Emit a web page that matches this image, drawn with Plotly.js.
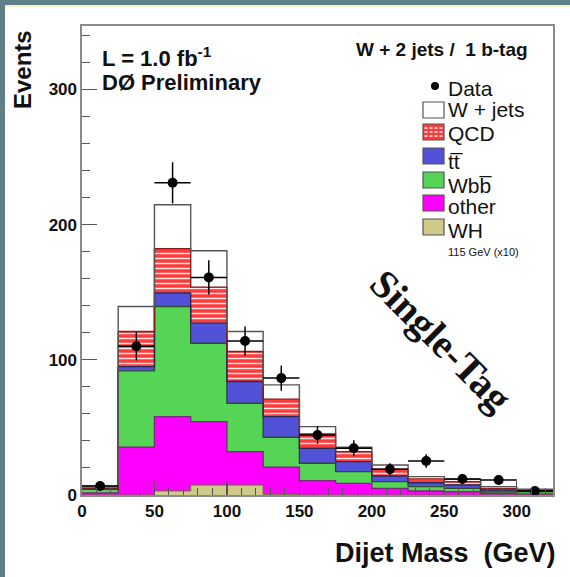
<!DOCTYPE html>
<html>
<head>
<meta charset="utf-8">
<script src="https://cdn.plot.ly/plotly-3.0.1.min.js"></script>
<style>
  html, body { margin:0; padding:0; width:570px; height:577px; overflow:hidden;
    background:#5f8089; }
  #panel { position:absolute; left:5px; top:5px; width:565px; height:572px;
    background:#ffffff; border-top:2px solid #f6f3c4; box-sizing:border-box; }
  #chart { position:absolute; left:0; top:0; width:570px; height:577px; }
</style>
</head>
<body>
<div id="panel"></div>
<div id="chart"></div>
<script>
// ---- data ----
const binLow = [0, 25, 50, 75, 100, 125, 150, 175, 200, 225, 250, 275, 300];
const binWidth = 25;
const other = [1.5, 35.3, 58, 54.3, 32.1, 20.5, 10.6, 8.6, 4.9, 3, 2.5, 1, 0.7];
const wbb   = [2.7, 56.5, 81.5, 58, 35.8, 22.2, 12.9, 8.7, 5, 3.2, 2.4, 1.1, 1.8];
const ttbar = [0.5, 3.2, 9.9, 14.9, 16.1, 15.3, 11.1, 7.4, 4.2, 2.9, 2.5, 1.6, 0.3];
const qcd   = [0.5, 26, 32.8, 26.6, 22.2, 12.9, 10.6, 7.4, 4.9, 2.8, 2.5, 1.2, 0.7];
const wjets = [1.5, 18.5, 32.6, 26.9, 14.8, 10.6, 5.4, 3.2, 3.2, 1.7, 1.7, 1.3, 0.7];
const whx10 = [0, 0, 3, 7.4, 7.4, 0.5, 0, 0, 0, 0, 0, 0, 0];
const dataVals = [6.7, 110, 231, 161, 114, 86.5, 44.4, 34.6, 19, 25.2, 11.9, 11.1, 3];
const dataErr  = [2.6, 10.5, 15.2, 12.7, 10.7, 9.3, 6.7, 5.9, 4.4, 5, 3.4, 3.3, 1.7];
const xTickVals = [0, 50, 100, 150, 200, 250, 300];
const legendLabels = ['Data', 'W + jets', 'QCD', 'tt\u0305', 'Wbb\u0305', 'other', 'WH'];

// ---- derived ----
const centers = binLow.map(v => v + binWidth / 2);
const edges = binLow.concat([binLow[binLow.length - 1] + binWidth]);
const layers = [other, wbb, ttbar, qcd, wjets];
const colors = ['#ff00ff', '#55d455', '#5252d8', '#ff3a3a', '#ffffff'];
const names = ['other', 'Wbb', 'ttbar', 'QCD', 'W + jets'];
const cum = [];
let run = binLow.map(() => 0);
layers.forEach(l => { run = run.map((v, i) => v + l[i]); cum.push(run.slice()); });
const stepY = arr => arr.concat([arr[arr.length - 1]]);

const traces = [];
layers.forEach((l, k) => {
  const t = {type:'bar', x:centers, y:l, width:binWidth, name:names[k],
    marker:{color:colors[k], line:{width:0}}, hoverinfo:'skip'};
  if (k === 3) {
    t.marker.pattern = {shape:'-', fgcolor:'#ffe8e8', bgcolor:'#ff3a3a',
      size:5, solidity:0.3, fillmode:'replace'};
  }
  traces.push(t);
});
const outlineColors = ['#7a2a7a', '#2d4d2d', '#2a2a55', '#8b1a1a', '#555555'];
cum.forEach((c, k) => {
  traces.push({type:'scatter', mode:'lines', x:edges, y:stepY(c),
    line:{shape:'hv', color:outlineColors[k], width:1.4}, hoverinfo:'skip'});
});
// WH (x10) overlay
traces.push({type:'scatter', mode:'lines', x:edges, y:stepY(whx10), fill:'tozeroy',
  fillcolor:'#cfc98a', line:{shape:'hv', color:'#6b6840', width:1}, hoverinfo:'skip'});
// data
traces.push({type:'scatter', mode:'markers', x:centers, y:dataVals,
  marker:{color:'#000', size:10},
  error_y:{type:'data', array:dataErr, color:'#000', thickness:1.5, width:0},
  error_x:{type:'constant', value:binWidth/2, color:'#000', thickness:1.5, width:0},
  hoverinfo:'skip'});

// ---- page-pixel helpers for annotations/shapes ----
const L = 82, R = 553, T = 26, B = 495;
const px = x => (x - L) / (R - L);
const py = y => (B - y) / (B - T);

const ann = [];
const boldSans = (s) => ({family:'Liberation Sans, Arial, sans-serif', size:s, color:'#111', weight:'bold'});
const sans = (s) => ({family:'Liberation Sans, Arial, sans-serif', size:s, color:'#111'});
function A(text, x, y, xanchor, font, extra) {
  ann.push(Object.assign({text:text, xref:'paper', yref:'paper', x:px(x), y:py(y),
    xanchor:xanchor, yanchor:'middle', showarrow:false, font:font, borderpad:0}, extra || {}));
}
A('Events', 22, 70, 'center', boldSans(24), {textangle:-90});
A('Dijet Mass\u00a0\u00a0(GeV)', 557, 553, 'right', boldSans(27));
A('L = 1.0 fb<sup>-1</sup>', 101, 57, 'left', boldSans(22));
A('D\u00d8 Preliminary', 101, 82, 'left', boldSans(22));
A('W + 2 jets /\u00a0\u00a01 b-tag', 529, 50, 'right', boldSans(19));
A('Single-Tag', 441, 340, 'center',
  {family:'Liberation Serif, Times New Roman, serif', size:40, color:'#111', weight:'bold'},
  {textangle:45});

// legend
const rowY = [86, 110, 132, 156, 180, 203, 227];
const textY = [88, 110, 133, 161, 185, 206, 230];
const shapes = [];
legendLabels.forEach((lab, i) => {
  A(lab, 447, textY[i], 'left', sans(21));
});
A('115 GeV (x10)', 447, 252, 'left', sans(11));
// data symbol
shapes.push({type:'circle', xref:'paper', yref:'paper', x0:px(431), x1:px(439),
  y0:py(90), y1:py(82), fillcolor:'#000', line:{width:0}});
const boxFill = ['#ffffff', '#ff3a3a', '#5252d8', '#55d455', '#ff00ff', '#cfc98a'];
for (let i = 1; i < 7; i++) {
  const yc = rowY[i];
  shapes.push({type:'rect', xref:'paper', yref:'paper', x0:px(423), x1:px(444),
    y0:py(yc + 8), y1:py(yc - 8), fillcolor:boxFill[i - 1], line:{color:'#555', width:1.2}});
  if (i === 2) {
    [yc - 4, yc, yc + 4].forEach(yy => {
      shapes.push({type:'line', xref:'paper', yref:'paper', x0:px(424.5), x1:px(442.5),
        y0:py(yy), y1:py(yy), line:{color:'#ffffff', width:1.3, dash:'3px,2px'}});
    });
  }
}

const axisCommon = {showgrid:false, zeroline:false, showline:true, mirror:true,
  linecolor:'#8a8a8a', linewidth:1.6, ticks:'inside', tickcolor:'#555', tickwidth:1.2,
  tickfont:boldSans(17), fixedrange:true};

const layout = {
  width:570, height:577,
  margin:{l:L, r:570 - R, t:T, b:577 - B},
  paper_bgcolor:'rgba(0,0,0,0)', plot_bgcolor:'#ffffff',
  barmode:'stack', bargap:0, showlegend:false,
  xaxis:Object.assign({}, axisCommon, {range:[0, 325], tickvals:xTickVals, ticklen:14,
    minor:{dtick:10, tick0:0, ticklen:7, ticks:'inside', tickcolor:'#555', tickwidth:1}}),
  yaxis:Object.assign({}, axisCommon, {range:[0, 347], dtick:100, tick0:0, ticklen:15,
    minor:{dtick:20, tick0:0, ticklen:8, ticks:'inside', tickcolor:'#555', tickwidth:1}}),
  annotations:ann, shapes:shapes
};
Plotly.newPlot('chart', traces, layout, {staticPlot:true, displayModeBar:false});
</script>
</body>
</html>
